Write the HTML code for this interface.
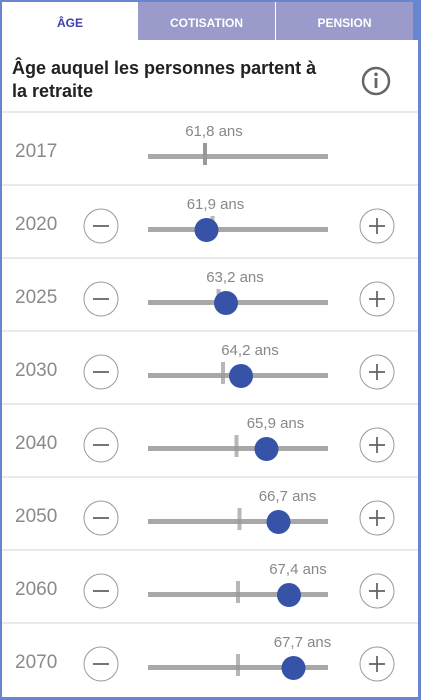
<!DOCTYPE html>
<html><head><meta charset="utf-8"><style>
body{margin:0;width:421px;height:700px;background:#6a85cf;font-family:"Liberation Sans",sans-serif;overflow:hidden;position:relative}
.panel{position:absolute;left:2px;top:2px;width:416px;height:695px;background:#fff}
.tab{position:absolute;top:0;height:38px;line-height:42px;text-align:center;font-size:12px;font-weight:bold;color:#fff;background:#9a9acb}
</style></head><body>
<div class="panel">
 <div class="tab" style="left:0;width:136px;background:#fff;color:#3f3fa8">ÂGE</div>
 <div class="tab" style="left:136px;width:137px">COTISATION</div>
 <div class="tab" style="left:274px;width:137px">PENSION</div>
 <div style="position:absolute;left:411px;top:0;width:5px;height:38px;background:#6a85cf"></div>
 <div style="position:absolute;left:10px;top:55px;width:312px;font-size:18px;font-weight:bold;color:#222;line-height:23px">Âge auquel les personnes partent à la retraite</div>
 <svg style="position:absolute;left:358px;top:63px" width="32" height="32"><circle cx="16" cy="16" r="13" fill="none" stroke="#666" stroke-width="2.5"/><rect x="14.6" y="13" width="2.8" height="10" fill="#666"/><circle cx="16" cy="9.3" r="1.8" fill="#666"/></svg>
</div>
<svg id="chart" width="421" height="700" style="position:absolute;left:0;top:0"></svg>
<script>
const years=["2017","2020","2025","2030","2040","2050","2060","2070"];
const values=[61.8,61.9,63.2,64.2,65.9,66.7,67.4,67.7];
const refs=[61.8,62.3,62.7,63.0,63.9,64.1,64.0,64.0];
const labels=["61,8 ans","61,9 ans","63,2 ans","64,2 ans","65,9 ans","66,7 ans","67,4 ans","67,7 ans"];
const svg=document.getElementById('chart');const NS='http://www.w3.org/2000/svg';
function x(v){return 148+(v-58)*15;}
function mk(t,a,p){const e=document.createElementNS(NS,t);for(const k in a)e.setAttribute(k,a[k]);(p||svg).appendChild(e);return e;}
years.forEach((y,i)=>{
 const top=112+i*73;
 const g=mk('g',{});
 
 
 mk('line',{x1:2,x2:418,y1:top,y2:top,stroke:'#ddd','stroke-width':1.3},g);
 const yt=mk('text',{x:15,y:top+45,'font-size':19,fill:'#8a8a8a'},g);yt.textContent=y;
 
 
 mk('rect',{x:148,y:top+42,width:180,height:5,fill:'#a8a8a8'},g);
 if(i===0){
  const m=mk('rect',{x:x(values[i])-2,y:top+31,width:4,height:22,fill:'#999'},g);
  
  
 }else{
  const r=mk('rect',{x:x(refs[i])-2,y:top+31,width:4,height:22,fill:'#999',opacity:0.7},g);
  
  
  const k=mk('circle',{cx:x(values[i]),cy:top+45,r:12,fill:'#3653a8'},g);
  
  
  [[101,'minus'],[377,'plus']].forEach(([cx,n])=>{
   const b=mk('g',{},g);
   
   
   mk('circle',{cx:cx,cy:top+41,r:17,fill:'#fff',stroke:'#999','stroke-width':1},b);
   mk('line',{x1:cx-8,x2:cx+8,y1:top+41,y2:top+41,stroke:'#666','stroke-width':1.8},b);
   if(n==='plus')mk('line',{x1:cx,x2:cx,y1:top+33,y2:top+49,stroke:'#666','stroke-width':1.8},b);
  });
 }
 const lt=mk('text',{x:x(values[i])+9,y:top+24,'font-size':15,fill:'#888','text-anchor':'middle'},g);lt.textContent=labels[i];
 
 
});
</script>
</body></html>
